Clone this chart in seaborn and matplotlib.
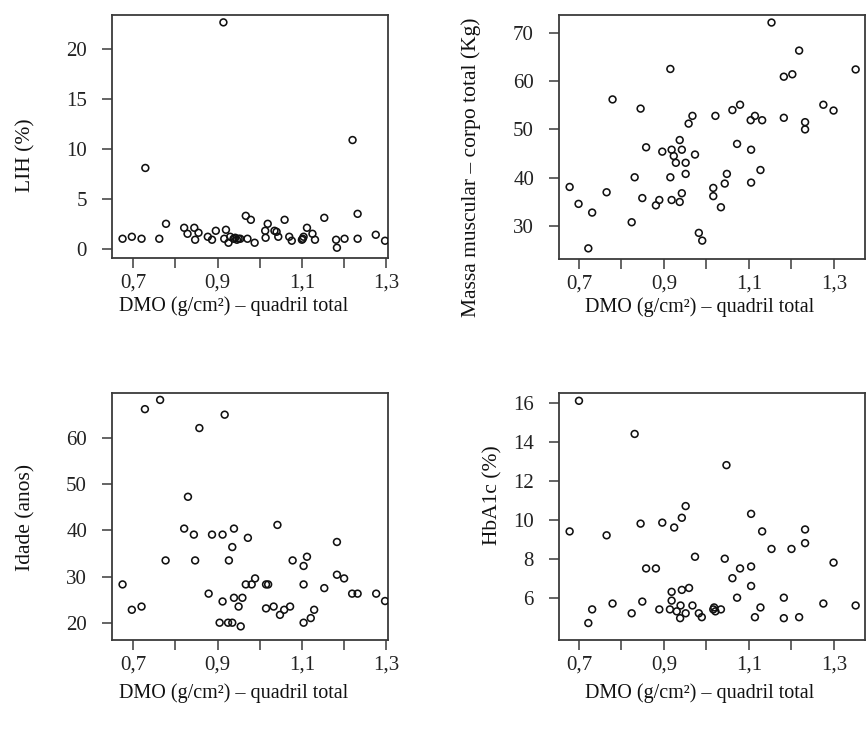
import matplotlib
matplotlib.use("Agg")
import matplotlib.pyplot as plt
import seaborn as sns
import pandas as pd
from matplotlib.ticker import FixedLocator, FixedFormatter

# ---------------- data ----------------
lih_dmo = [0.675, 0.697, 0.720, 0.729, 0.762, 0.778, 0.821, 0.829, 0.845, 0.847,
           0.855, 0.877, 0.887, 0.896, 0.914, 0.920, 0.916, 0.926, 0.930, 0.938,
           0.942, 0.946, 0.950, 0.954, 0.967, 0.979, 0.971, 0.988, 1.014, 1.019,
           1.013, 1.035, 1.044, 1.040, 1.059, 1.070, 1.076, 1.100, 1.102, 1.104,
           1.112, 1.125, 1.131, 1.153, 1.181, 1.183, 1.201, 1.220, 1.232, 1.232,
           1.275, 1.297]
lih = [1.0, 1.2, 1.0, 8.1, 1.0, 2.5, 2.1, 1.5, 2.1, 0.9,
       1.6, 1.2, 0.9, 1.8, 22.7, 1.9, 1.0, 0.6, 1.2, 1.0,
       1.1, 0.9, 1.0, 1.0, 3.3, 2.9, 1.0, 0.6, 1.1, 2.5,
       1.8, 1.8, 1.2, 1.7, 2.9, 1.2, 0.8, 0.9, 1.0, 1.2,
       2.1, 1.5, 0.9, 3.1, 0.9, 0.1, 1.0, 10.9, 3.5, 1.0,
       1.4, 0.8]

mm_dmo = [0.678, 0.699, 0.731, 0.722, 0.765, 0.779, 0.824, 0.831, 0.845, 0.849,
          0.858, 0.881, 0.889, 0.896, 0.915, 0.915, 0.918, 0.918, 0.923, 0.928,
          0.937, 0.942, 0.942, 0.937, 0.951, 0.951, 0.958, 0.967, 0.973, 0.982,
          0.990, 1.016, 1.016, 1.021, 1.034, 1.043, 1.048, 1.061, 1.072, 1.079,
          1.105, 1.105, 1.104, 1.114, 1.127, 1.131, 1.153, 1.182, 1.182, 1.202,
          1.218, 1.232, 1.232, 1.275, 1.299, 1.351]
massa = [38.1, 34.6, 32.8, 25.4, 37.0, 56.2, 30.8, 40.1, 54.3, 35.8,
         46.3, 34.3, 35.4, 45.4, 62.5, 40.1, 45.8, 35.4, 44.5, 43.1,
         47.8, 45.8, 36.8, 35.0, 43.1, 40.8, 51.2, 52.8, 44.8, 28.6,
         27.0, 37.9, 36.2, 52.8, 33.9, 38.8, 40.8, 54.0, 47.0, 55.1,
         45.8, 39.0, 51.9, 52.8, 41.6, 51.9, 72.1, 60.9, 52.4, 61.4,
         66.3, 51.5, 50.0, 55.1, 53.9, 62.4]

id_dmo = [0.675, 0.697, 0.720, 0.728, 0.764, 0.777, 0.830, 0.821, 0.844, 0.847,
          0.857, 0.879, 0.887, 0.912, 0.917, 0.912, 0.927, 0.939, 0.935, 0.939,
          0.959, 0.950, 0.972, 0.967, 0.981, 0.989, 1.015, 1.020, 1.015, 1.033,
          1.042, 1.048, 1.058, 1.072, 1.078, 1.104, 1.112, 1.104, 1.129, 1.153,
          1.183, 1.183, 1.200, 1.219, 1.232, 1.276, 1.297, 0.905, 0.925, 0.935,
          0.955, 1.104, 1.121]
idade = [28.3, 22.8, 23.5, 66.3, 68.3, 33.5, 47.3, 40.4, 39.1, 33.5,
         62.2, 26.3, 39.1, 39.1, 65.1, 24.6, 33.5, 40.4, 36.4, 25.4,
         25.4, 23.5, 38.4, 28.3, 28.3, 29.6, 28.3, 28.3, 23.1, 23.5,
         41.2, 21.7, 22.8, 23.5, 33.5, 32.3, 34.3, 28.3, 22.8, 27.5,
         37.5, 30.4, 29.6, 26.3, 26.3, 26.3, 24.7, 20.0, 20.0, 20.0,
         19.2, 20.0, 21.0]

hb_dmo = [0.700, 0.678, 0.731, 0.765, 0.779, 0.824, 0.831, 0.845, 0.849, 0.858,
          0.881, 0.889, 0.896, 0.918, 0.918, 0.924, 0.914, 0.942, 0.942, 0.951,
          0.959, 0.939, 0.930, 0.951, 0.967, 0.973, 0.982, 1.016, 1.018, 1.021,
          1.034, 1.043, 1.047, 1.061, 1.072, 1.079, 1.105, 1.105, 1.105, 1.127,
          1.131, 1.153, 1.182, 1.200, 1.232, 1.232, 1.275, 1.299, 1.351, 0.722,
          0.938, 0.989, 1.114, 1.182, 1.218]
hba1c = [16.1, 9.4, 5.4, 9.2, 5.7, 5.2, 14.4, 9.8, 5.8, 7.5,
         7.5, 5.4, 9.85, 6.3, 5.85, 9.6, 5.4, 10.1, 6.4, 10.7,
         6.5, 5.6, 5.3, 5.2, 5.6, 8.1, 5.2, 5.4, 5.5, 5.3,
         5.4, 8.0, 12.8, 7.0, 6.0, 7.5, 7.6, 10.3, 6.6, 5.5,
         9.4, 8.5, 6.0, 8.5, 9.5, 8.8, 5.7, 7.8, 5.6, 4.7,
         4.95, 5.0, 5.0, 4.95, 5.0]

x_ticks = [0.7, 0.8, 0.9, 1.0, 1.1, 1.2, 1.3]
x_tick_labels = ["0,7", "", "0,9", "", "1,1", "", "1,3"]
x_label = "DMO (g/cm²) – quadril total"

panels = [
    dict(x=lih_dmo, y=lih, ylabel="LIH (%)", yticks=[0, 5, 10, 15, 20]),
    dict(x=mm_dmo, y=massa, ylabel="Massa muscular – corpo total (Kg)", yticks=[30, 40, 50, 60, 70]),
    dict(x=id_dmo, y=idade, ylabel="Idade (anos)", yticks=[20, 30, 40, 50, 60]),
    dict(x=hb_dmo, y=hba1c, ylabel="HbA1c (%)", yticks=[6, 8, 10, 12, 14, 16]),
]

# ---------------- style / layout ----------------
sns.set_theme(style="white")
plt.rcParams["font.family"] = ["Liberation Serif", "DejaVu Serif"]

W, H = 866, 735
fig = plt.figure(figsize=(W / 100, H / 100), dpi=100)

# pixel boxes: left, top, right, bottom
boxes = [(112, 15, 388, 258), (559, 15, 865, 259), (112, 393, 388, 640), (559, 393, 865, 640)]
xlims = [(0.650, 1.304), (0.653, 1.373), (0.650, 1.304), (0.653, 1.373)]
ylims = [(-0.93, 23.44), (23.2, 73.66), (16.25, 69.8), (3.83, 16.5)]
ylabel_pos = [(-0.312, 0.424), (-0.288, 0.377), (-0.312, 0.495), (-0.216, 0.587)]
xlabel_pos = [(0.442, -0.200), (0.461, -0.197), (0.442, -0.215), (0.461, -0.215)]

spine_col = "#3a3a3a"
for p, (l, t, r, b), xl, yl, ylp, xlp in zip(panels, boxes, xlims, ylims, ylabel_pos, xlabel_pos):
    ax = fig.add_axes([l / W, 1 - b / H, (r - l) / W, (b - t) / H])
    df = pd.DataFrame({"x": p["x"], "y": p["y"]})
    sns.scatterplot(data=df, x="x", y="y", ax=ax, marker="o", s=24,
                    facecolor="none", edgecolor="#111111", linewidth=1.15, zorder=3)
    ax.set_xlim(*xl)
    ax.set_ylim(*yl)
    ax.xaxis.set_major_locator(FixedLocator(x_ticks))
    ax.xaxis.set_major_formatter(FixedFormatter(x_tick_labels))
    ax.set_yticks(p["yticks"])
    ax.set_yticklabels([str(v) for v in p["yticks"]])
    ax.tick_params(axis="both", direction="out", length=7, width=1.1, color=spine_col,
                   labelsize=15, colors="#222222", bottom=True, left=True)
    ax.tick_params(axis="x", pad=4)
    ax.tick_params(axis="y", pad=11)
    for s in ax.spines.values():
        s.set_color(spine_col)
        s.set_linewidth(1.3)
        s.set_visible(True)
    ax.set_xlabel(x_label, fontsize=14.5, color="#111111")
    ax.set_ylabel(p["ylabel"], fontsize=15.5, color="#111111")
    ax.xaxis.set_label_coords(*xlp)
    ax.yaxis.set_label_coords(*ylp)
    ax.xaxis.label.set_va("center")
    ax.yaxis.label.set_va("center")
    ax.grid(False)

fig.savefig("out.png", dpi=100)
